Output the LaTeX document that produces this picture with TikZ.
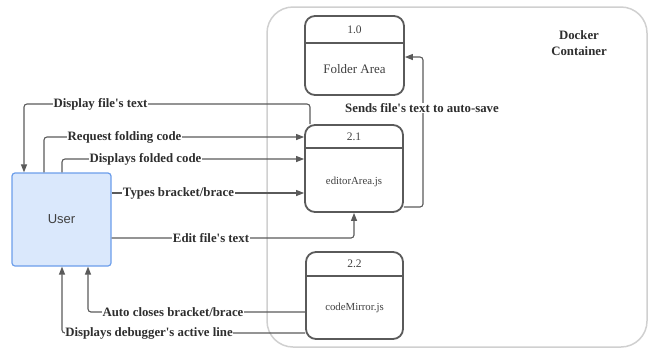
\documentclass[tikz,border=0pt]{standalone}
\usepackage{fontspec}
\setmainfont{Liberation Serif}
\newfontfamily\uisans{Liberation Sans}
\usetikzlibrary{arrows.meta,calc}
\definecolor{edge}{HTML}{5A5A5A}
\definecolor{frame}{HTML}{D0D0D0}
\definecolor{userfill}{HTML}{DAE8FC}
\definecolor{userline}{HTML}{6C9EEB}
\newcommand{\apos}{\textquotesingle}
\tikzset{
  procbox/.style={draw=edge, line width=1.8pt, rounded corners=10pt, minimum width=98pt, minimum height=86pt, inner sep=0pt},
  flow/.style={draw=edge, line width=1.1pt, rounded corners=3pt, -{Triangle[length=8pt,width=6pt]}},
  lbl/.style={fill=white, inner sep=0.5pt, text=black!82, font=\fontsize{12.8}{15}\selectfont\bfseries},
  idtxt/.style={text=black!75, font=\fontsize{11.5}{13}\selectfont},
  nametxt/.style={text=black!75, font=\fontsize{10.8}{13}\selectfont},
}
\begin{document}
\begin{tikzpicture}[x=1pt, y=-1pt]
\useasboundingbox (0,0) rectangle (655,349);

% container
\node[draw=frame, line width=1.5pt, rounded corners=26pt, minimum width=380pt, minimum height=340pt, inner sep=0pt] (docker) at (457,177) {};
\node[align=center, text=black!82, font=\fontsize{12.8}{16}\selectfont\bfseries] (dockerlbl) at (579,43) {Docker\\Container};

% processes
\node[procbox, minimum width=99pt, minimum height=79pt] (fa) at (354.5,55.5) {};
\draw[edge, line width=1.8pt] ([yshift=-28pt]fa.north west) -- ([yshift=-28pt]fa.north east);
\node[idtxt] (faid) at (354.5,30) {1.0};
\node[text=black!75, font=\fontsize{13}{15}\selectfont] (faname) at (354.5,69) {Folder Area};

\node[procbox, minimum width=98pt, minimum height=87pt] (ed) at (354,168.5) {};
\draw[edge, line width=1.8pt] ([yshift=-24pt]ed.north west) -- ([yshift=-24pt]ed.north east);
\node[idtxt] (edid) at (354,137) {2.1};
\node[nametxt] (edname) at (354,182) {editorArea.js};

\node[procbox, minimum width=97pt, minimum height=87pt] (cm) at (354.5,295.5) {};
\draw[edge, line width=1.8pt] ([yshift=-25pt]cm.north west) -- ([yshift=-25pt]cm.north east);
\node[idtxt] (cmid) at (354.5,264) {2.2};
\node[nametxt] (cmname) at (354.5,308) {codeMirror.js};

% external entity
\node[draw=userline, fill=userfill, line width=1.2pt, rounded corners=3pt, minimum width=99pt, minimum height=93pt, inner sep=0pt, text=black!75, font=\uisans\fontsize{13}{15}\selectfont] (user) at (61.5,219.5) {User};

% data flows
\draw[flow] ([xshift=-44pt]ed.north) |- (24,104) -- ([xshift=-37.5pt]user.north);
\node[lbl] (l1) at (100.5,104) {Display file\apos s text};

\draw[flow] ([xshift=-17.5pt]user.north) |- ([yshift=31.5pt]ed.west);
\node[lbl] (l2) at (124.5,137) {Request folding code};

\draw[flow] ([xshift=0.5pt]user.north) |- ([yshift=9.5pt]ed.west);
\node[lbl] (l3) at (145.5,159) {Displays folded code};

\draw[flow] ([yshift=26.5pt]user.east) -- ([yshift=26.5pt]user.east -| ed.west);
\node[lbl] (l4) at (178.5,193) {Types bracket/brace};

\draw[flow] ([yshift=-18.5pt]user.east) -| (ed.south);
\node[lbl] (l5) at (211,238) {Edit file\apos s text};

\draw[flow] ([yshift=-38.5pt]ed.east) -| (423,57) -- ([yshift=-1.5pt]fa.east);
\node[lbl] (l6) at (422,108) {Sends file\apos s text to auto-save};

\draw[flow] ([yshift=-16.5pt]cm.west) -| ([xshift=26.5pt]user.south);
\node[lbl] (l7) at (173,312) {Auto closes bracket/brace};

\draw[flow] ([yshift=-37.5pt]cm.west) -| ([xshift=0.5pt]user.south);
\node[lbl] (l8) at (149,333) {Displays debugger\apos s active line};
\end{tikzpicture}
\end{document}
